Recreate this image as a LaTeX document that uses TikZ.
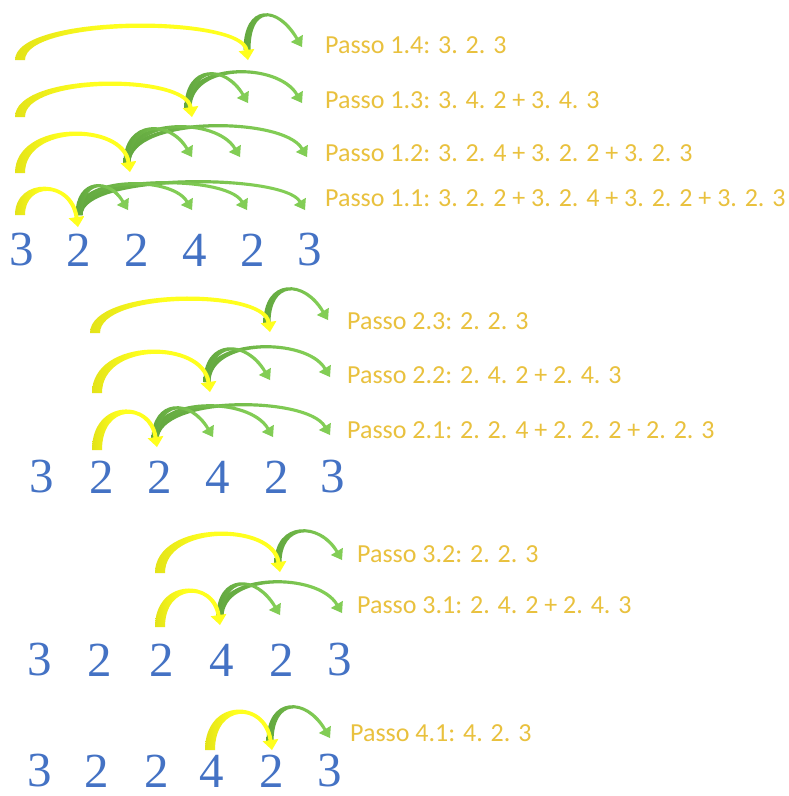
\documentclass[tikz,border=0pt]{standalone}
\usepackage{fontspec}
\newfontfamily\lblfont{Carlito}
\newfontfamily\digfont{Liberation Serif}
\usetikzlibrary{calc}
\definecolor{lblgold}{RGB}{233,193,62}
\definecolor{digblue}{RGB}{68,114,196}
\definecolor{yelA}{RGB}{185,185,15}
\definecolor{yelB}{RGB}{255,255,30}
\definecolor{grnA}{RGB}{80,145,50}
\definecolor{grnB}{RGB}{130,205,85}
\pgfdeclarehorizontalshading{yelsh}{100bp}{color(0bp)=(yelA); color(25bp)=(yelA!40!yelB); color(45bp)=(yelB); color(100bp)=(yelB)}
\pgfdeclarehorizontalshading{grnsh}{100bp}{color(0bp)=(grnA); color(35bp)=(grnA!50!grnB); color(65bp)=(grnB); color(100bp)=(grnB)}
\tikzset{
  yelshade/.style={shading=yelsh},
  grnshade/.style={shading=grnsh},
  dig/.style={font=\digfont\fontsize{49}{49}\selectfont,text=digblue,inner sep=0pt,anchor=center},
  lbl/.style={font=\lblfont\fontsize{26}{26}\selectfont,text=lblgold,inner sep=0pt,anchor=west}
}
% #1 x1, #2 y1, #3 tip x, #4 tip y, #5 top y, #6 dx factor, #7 w start, #8 w end, #9 shading style
\newcommand{\parr}[9]{%
  \pgfmathsetmacro\pyc{(#5 - 0.125*(#2+#4))/0.75}%
  \pgfmathsetmacro\pxb{#3 - #6*(#4-\pyc)}%
  \pgfmathsetmacro\pd{(#7+#8)/5}%
  \pgfmathsetmacro\phw{#8/2}%
  \pgfmathsetmacro\phh{#8+4}%
  \coordinate (P2) at (\pxb,\pyc);
  \coordinate (P3) at (#3,#4);
  \coordinate (Eb) at ($(P3)!10pt!(P2)$);
  \coordinate (S1) at ({#1-#7/2},#2);
  \coordinate (S2) at ({#1+#7/2},#2);
  \coordinate (O1) at ({#1-#7/2},{\pyc-\pd});
  \coordinate (O2) at ({\pxb+#8/2},{\pyc-\pd});
  \coordinate (I1) at ({#1+#7/2},{\pyc+\pd});
  \coordinate (I2) at ({\pxb-#8/2},{\pyc+\pd});
  \coordinate (E1) at ($(Eb)!\phw pt!90:(P3)$);
  \coordinate (E2) at ($(Eb)!\phw pt!-90:(P3)$);
  \coordinate (H1) at ($(Eb)!\phh pt!90:(P3)$);
  \coordinate (H2) at ($(Eb)!\phh pt!-90:(P3)$);
  \shade[#9] (S1) .. controls (O1) and (O2) .. (E1) -- (H1) -- (P3) -- (H2) -- (E2)
     .. controls (I2) and (I1) .. (S2) -- cycle;
}
\newcommand{\yarr}[5]{\parr{#1}{#2}{#3}{#4}{#5}{0.15}{10}{4}{yelshade}}
\newcommand{\garr}[5]{\parr{#1}{#2}{#3}{#4}{#5}{0.6}{7}{3}{grnshade}}
\begin{document}
\begin{tikzpicture}[x=1pt,y=-1pt]
\fill[white] (0,0) rectangle (788,796);
\useasboundingbox (0,0) rectangle (788,796);
% ---------- Row 1 ----------
% 1.4
\garr{247}{50}{302}{47}{16}
\yarr{20}{60}{248}{60}{27}
% 1.3
\garr{188}{108}{302}{103}{73}
\garr{188}{108}{248}{103}{75}
\yarr{20}{117}{192}{117}{85}
% 1.2
\garr{127}{163}{307}{157}{127}
\garr{127}{163}{240}{157}{128}
\garr{127}{163}{192}{157}{130}
\yarr{20}{173}{130}{172}{135}
% 1.1
\garr{79}{215}{305}{210}{183}
\garr{79}{215}{247}{210}{184}
\garr{79}{215}{192}{210}{185}
\garr{79}{215}{128}{210}{187}
\yarr{20}{215}{78}{227}{190}
\node[lbl] (l14) at (325,45) {Passo 1.4: 3. 2. 3};
\node[lbl] (l13) at (325,100) {Passo 1.3: 3. 4. 2 + 3. 4. 3};
\node[lbl] (l12) at (325,153) {Passo 1.2: 3. 2. 4 + 3. 2. 2 + 3. 2. 3};
\node[lbl] (l11) at (325,198) {Passo 1.1: 3. 2. 2 + 3. 2. 4 + 3. 2. 2 + 3. 2. 3};
\node[dig] (a1) at (22,250) {3};
\node[dig] (a2) at (79,250) {2};
\node[dig] (a3) at (137,250) {2};
\node[dig] (a4) at (195,250) {4};
\node[dig] (a5) at (253,250) {2};
\node[dig] (a6) at (310,250) {3};
% ---------- Row 2 ----------
% 2.3
\garr{267}{323}{328}{320}{290}
\yarr{95}{333}{270}{332}{300}
% 2.2
\garr{207}{382}{330}{377}{348}
\garr{207}{382}{270}{380}{350}
\yarr{97}{393}{210}{392}{353}
% 2.1
\garr{155}{440}{330}{435}{406}
\garr{155}{440}{273}{437}{407}
\garr{155}{440}{213}{437}{409}
\yarr{97}{450}{157}{447}{413}
\node[lbl] (l23) at (347,321) {Passo 2.3: 2. 2. 3};
\node[lbl] (l22) at (347,375) {Passo 2.2: 2. 4. 2 + 2. 4. 3};
\node[lbl] (l21) at (347,430) {Passo 2.1: 2. 2. 4 + 2. 2. 2 + 2. 2. 3};
\node[dig] (b1) at (42,477) {3};
\node[dig] (b2) at (102,477) {2};
\node[dig] (b3) at (160,477) {2};
\node[dig] (b4) at (218,477) {4};
\node[dig] (b5) at (277,477) {2};
\node[dig] (b6) at (333,477) {3};
% ---------- Row 3 ----------
% 3.2
\garr{278}{563}{342}{560}{532}
\yarr{160}{573}{280}{572}{535}
% 3.1
\garr{220}{617}{342}{613}{583}
\garr{220}{617}{280}{615}{585}
\yarr{160}{627}{220}{625}{592}
\node[lbl] (l32) at (357,554) {Passo 3.2: 2. 2. 3};
\node[lbl] (l31) at (357,605) {Passo 3.1: 2. 4. 2 + 2. 4. 3};
\node[dig] (c1) at (40,660) {3};
\node[dig] (c2) at (100,660) {2};
\node[dig] (c3) at (162,660) {2};
\node[dig] (c4) at (222,660) {4};
\node[dig] (c5) at (282,660) {2};
\node[dig] (c6) at (340,660) {3};
% ---------- Row 4 ----------
\garr{270}{742}{330}{738}{708}
\yarr{210}{750}{272}{750}{713}
\node[lbl] (l41) at (350,733) {Passo 4.1: 4. 2. 3};
\node[dig] (e1) at (40,771) {3};
\node[dig] (e2) at (97,771) {2};
\node[dig] (e3) at (157,771) {2};
\node[dig] (e4) at (212,771) {4};
\node[dig] (e5) at (272,771) {2};
\node[dig] (e6) at (330,771) {3};
\end{tikzpicture}
\end{document}
